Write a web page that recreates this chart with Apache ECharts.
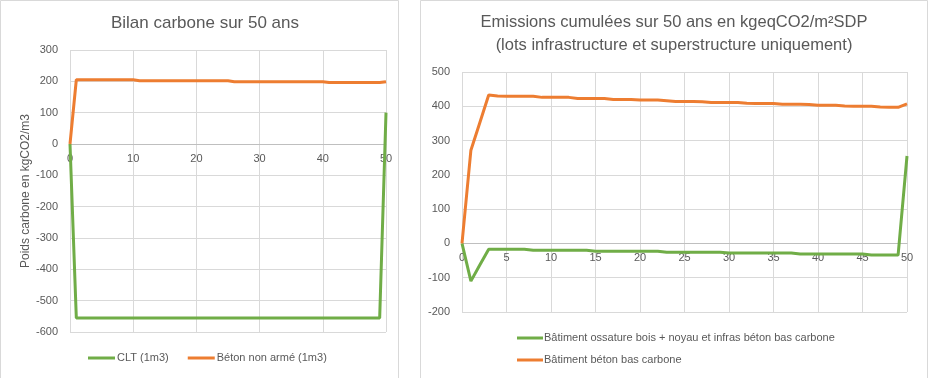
<!DOCTYPE html>
<html>
<head>
<meta charset="utf-8">
<script src="https://cdn.jsdelivr.net/npm/echarts@6/dist/echarts.min.js"></script>
<style>
  html, body { margin: 0; padding: 0; background: #fff; }
  #chart { width: 930px; height: 378px; }
</style>
</head>
<body>
<div id="chart"></div>
<script>
// years 0..50 (same x values for both panels)
const years = [0, 1, 2, 3, 4, 5, 6, 7, 8, 9, 10, 11, 12, 13, 14, 15, 16, 17, 18, 19, 20,
  21, 22, 23, 24, 25, 26, 27, 28, 29, 30, 31, 32, 33, 34, 35, 36, 37, 38, 39, 40,
  41, 42, 43, 44, 45, 46, 47, 48, 49, 50];

// left panel: Bilan carbone sur 50 ans (kgCO2/m3)
const cltValues = [0, -555, -555, -555, -555, -555, -555, -555, -555, -555, -555,
  -555, -555, -555, -555, -555, -555, -555, -555, -555, -555,
  -555, -555, -555, -555, -555, -555, -555, -555, -555, -555,
  -555, -555, -555, -555, -555, -555, -555, -555, -555, -555,
  -555, -555, -555, -555, -555, -555, -555, -555, -555, 100];
const betonValues = [0, 205, 205, 205, 205, 205, 205, 205, 205, 205, 205,
  202, 202, 202, 202, 202, 202, 202, 202, 202, 202,
  202, 202, 202, 202, 202, 199, 199, 199, 199, 199,
  199, 199, 199, 199, 199, 199, 199, 199, 199, 199,
  196, 196, 196, 196, 196, 196, 196, 196, 196, 199];

// right panel: emissions cumulées (kgeqCO2/m²SDP)
const boisValues = [0, -110, -63, -17, -17, -17, -17, -17, -20, -20, -20,
  -20, -20, -20, -20, -23, -23, -23, -23, -23, -23,
  -23, -23, -26, -26, -26, -26, -26, -26, -26, -28,
  -28, -28, -28, -28, -28, -28, -28, -31, -31, -31,
  -31, -31, -31, -31, -31, -34, -34, -34, -34, 255];
const betonBasValues = [0, 272, 352, 433, 430, 429, 429, 429, 429, 426, 426,
  426, 426, 423, 423, 423, 423, 420, 420, 420, 418,
  418, 418, 416, 414, 414, 414, 413, 411, 411, 411,
  411, 409, 408, 408, 408, 406, 406, 406, 405, 403,
  403, 403, 401, 400, 400, 400, 398, 397, 397, 407];

const leftNames = ['CLT (1m3)', 'Béton non armé (1m3)'];
const rightNames = ['Bâtiment ossature bois + noyau et infras béton bas carbone', 'Bâtiment béton bas carbone'];

const GREEN = '#70ad47';
const ORANGE = '#ed7d31';
const GRID_LINE = '#d9d9d9';
const AXIS_LINE = '#bfbfbf';
const TEXT = '#595959';
const FONT = 'Liberation Sans';

// plot boxes (px)
const LEFT_GRID = { left: 70, top: 50, width: 316, height: 282 };
const RIGHT_GRID = { left: 462, top: 72, width: 445, height: 240 };

const pairs = (vals) => years.map((x, i) => [x, vals[i]]);

// onZero does not kick in here, so pull the x axis up to the y=0 line by hand
const zeroOffset = (grid, yMin, yMax) => -grid.height * (0 - yMin) / (yMax - yMin);

const xAxisBase = (gridIndex, interval, offset) => ({
  type: 'value',
  gridIndex,
  min: 0,
  max: 50,
  interval,
  offset,
  axisLine: { onZero: false, lineStyle: { color: AXIS_LINE, width: 1 } },
  axisTick: { show: false },
  axisLabel: { color: TEXT, fontSize: 11, fontFamily: FONT, margin: 9 },
  splitLine: { show: true, lineStyle: { color: GRID_LINE, width: 1 } }
});

const yAxisBase = (gridIndex, min, max) => ({
  type: 'value',
  gridIndex,
  min,
  max,
  interval: 100,
  axisLine: { show: false, onZero: false },
  axisTick: { show: false },
  axisLabel: { color: TEXT, fontSize: 11, fontFamily: FONT, margin: 12 },
  splitLine: { show: true, lineStyle: { color: GRID_LINE, width: 1 } }
});

const lineSeries = (name, vals, color, idx) => ({
  name,
  type: 'line',
  xAxisIndex: idx,
  yAxisIndex: idx,
  data: pairs(vals),
  showSymbol: false,
  symbol: 'none',
  smooth: false,
  lineStyle: { color, width: 3 },
  itemStyle: { color }
});

const chart = echarts.init(document.getElementById('chart'));

chart.setOption({
  animation: false,
  backgroundColor: '#fff',
  graphic: [
    { type: 'rect', shape: { x: 0.5, y: 0.5, width: 398, height: 400 },
      style: { fill: 'none', stroke: GRID_LINE, lineWidth: 1 }, silent: true },
    { type: 'rect', shape: { x: 420.5, y: 0.5, width: 507, height: 400 },
      style: { fill: 'none', stroke: GRID_LINE, lineWidth: 1 }, silent: true }
  ],
  title: [
    {
      text: 'Bilan carbone sur 50 ans',
      left: 205,
      top: 12,
      padding: 0,
      textAlign: 'center',
      textStyle: { color: TEXT, fontSize: 17, fontWeight: 'normal', fontFamily: FONT, lineHeight: 23 }
    },
    {
      text: 'Emissions cumulées sur 50 ans en kgeqCO2/m²SDP\n(lots infrastructure et superstructure uniquement)',
      left: 674,
      top: 11,
      padding: 0,
      textAlign: 'center',
      textStyle: { color: TEXT, fontSize: 16.5, fontWeight: 'normal', fontFamily: FONT, lineHeight: 23 }
    }
  ],
  legend: [
    {
      data: leftNames,
      left: 88,
      top: 351,
      padding: 0,
      icon: 'rect',
      itemWidth: 27,
      itemHeight: 3,
      itemGap: 19,
      textStyle: { color: TEXT, fontSize: 11, fontFamily: FONT, lineHeight: 14, padding: [0, 0, 0, -3] }
    },
    {
      data: rightNames,
      orient: 'vertical',
      left: 517,
      top: 331,
      padding: 0,
      icon: 'rect',
      itemWidth: 26,
      itemHeight: 3,
      itemGap: 8,
      textStyle: { color: TEXT, fontSize: 11, fontFamily: FONT, lineHeight: 14, padding: [0, 0, 0, -4] }
    }
  ],
  grid: [LEFT_GRID, RIGHT_GRID],
  xAxis: [
    xAxisBase(0, 10, zeroOffset(LEFT_GRID, -600, 300)),
    xAxisBase(1, 5, zeroOffset(RIGHT_GRID, -200, 500))
  ],
  yAxis: [
    Object.assign(yAxisBase(0, -600, 300), {
      name: 'Poids carbone en kgCO2/m3',
      nameLocation: 'middle',
      nameRotate: 90,
      nameGap: 35,
      nameTextStyle: { color: TEXT, fontSize: 12, fontFamily: FONT }
    }),
    yAxisBase(1, -200, 500)
  ],
  series: [
    lineSeries(leftNames[0], cltValues, GREEN, 0),
    lineSeries(leftNames[1], betonValues, ORANGE, 0),
    lineSeries(rightNames[0], boisValues, GREEN, 1),
    lineSeries(rightNames[1], betonBasValues, ORANGE, 1)
  ]
});

window.addEventListener('resize', () => chart.resize());
</script>
</body>
</html>
